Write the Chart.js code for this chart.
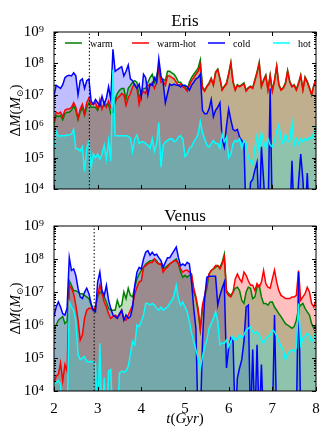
<!doctype html>
<html lang="en">
  <head>
    <meta charset="UTF-8" />
    <title>Eris / Venus mass accretion</title>
    <script src="https://cdn.jsdelivr.net/npm/chart.js@4.4.1/dist/chart.umd.min.js"></script>
    <style>
      body,
      html {
        margin: 0;
        padding: 0;
        background: #fff;
      }
      .panel {
        position: absolute;
        left: 0;
        width: 336px;
      }
      #erisBox {
        top: 0;
        height: 200px;
      }
      #venusBox {
        top: 200px;
        height: 238px;
      }
    </style>
  </head>
  <body>
    <div class="panel" id="erisBox">
      <canvas id="erisChart" width="336" height="200"></canvas>
    </div>
    <div class="panel" id="venusBox">
      <canvas id="venusChart" width="336" height="238"></canvas>
    </div>

    <script>
      // sampling grid (Gyr), one step every 0.05 Gyr from 2 to 8
      const times = [];
      for (let i = 0; i <= 120; i++) times.push(+(2 + 0.05 * i).toFixed(2));

      const seriesNames = ["warm", "warm-hot", "cold", "hot"];
      const xTicks = [2, 3, 4, 5, 6, 7, 8];
      const yDecades = [4, 5, 6, 7, 8, 9];
      const erisMarker = 2.81;
      const venusMarker = 2.92;

      // values below 1e4 sit off the bottom of the axis
      const erisWarm = [
        1.1e6, 2.2e6, 2e6, 2.2e6, 1.6e6, 2.5e6, 2.8e6, 2.8e6, 3.2e6, 4.5e6,
        3.2e6, 1.6e6, 2.8e6, 4e6, 2.2e6, 4e6, 5.6e6, 4e6, 4e6, 4e6,
        3.2e6, 5e6, 4e6, 4.5e6, 5e6, 5e6, 2.5e6, 2.8e6, 7.2e6, 1.1e7,
        1.4e7, 1.6e7, 1.6e7, 7.1e6, 1.6e7, 2e7, 2.5e7, 2.8e7, 2.5e7, 7.9e6,
        1.3e7, 1.6e7, 1.6e7, 2.5e7, 3.5e7, 4.5e7, 2.5e7, 4e7, 7.9e7, 3.2e7,
        3.2e7, 2.8e7, 5.6e7, 5.6e7, 5e7, 4.5e7, 3.5e7, 2.5e7, 2.5e7, 2e7,
        1.8e7, 1.4e7, 2.5e7, 3.5e7, 4.5e7, 5.6e7, 7.1e7, 1.3e8, 1.8e7, 1.4e7,
        1.9e7, 2.4e7, 3.4e7, 2.1e7, 5.3e7, 6.6e7, 3.4e7, 1.5e7, 1.9e7, 2.4e7,
        4.8e7, 1.1e8, 2.7e7, 1.5e7, 2.1e7, 1.9e7, 2.1e7, 2.4e7, 1.4e7, 1.7e7,
        1.9e7, 1.7e7, 3e7, 5.3e7, 1.1e8, 1.9e7, 3e7, 4.3e7, 1.5e7, 4.3e7,
        1.4e7, 3e7, 8.4e7, 2.1e7, 1.5e7, 1.7e7, 2.4e7, 6e7, 2.7e7, 1.9e7,
        2.1e7, 1.5e7, 2.4e7, 4.3e7, 1.5e7, 3.7e7, 2.7e7, 1.7e7, 1e7, 2e7, 3e7,
      ];
      const erisWarmHot = [
        1.4e6, 2.8e6, 2.5e6, 2.8e6, 2e6, 3.2e6, 3.5e6, 3.5e6, 4e6, 5.6e6,
        4e6, 1.8e6, 3.5e6, 5e6, 2.5e6, 5.6e6, 7.9e6, 5e6, 5e6, 5.6e6,
        3.5e6, 7.1e6, 3.5e6, 5.6e6, 4e6, 6.3e6, 4e6, 3.2e6, 5.8e6, 7.9e6,
        8.9e6, 1.1e7, 1e7, 4.6e6, 7.9e6, 1.1e7, 1.8e7, 2.2e7, 1.6e7, 5e6,
        1e7, 1.3e7, 1.1e7, 2e7, 2e7, 2.5e7, 1.6e7, 2.5e7, 7.1e7, 2.5e7,
        2.8e7, 2e7, 4e7, 4e7, 3.5e7, 3.2e7, 2.5e7, 2e7, 2.2e7, 1.8e7,
        1.6e7, 1.3e7, 2e7, 2.8e7, 3.5e7, 4.5e7, 5.6e7, 8.9e7, 1.6e7, 1.3e7,
        1.8e7, 2.2e7, 3.2e7, 2e7, 5e7, 6.3e7, 3.2e7, 1.4e7, 1.8e7, 2.2e7,
        4.5e7, 1e8, 2.5e7, 1.4e7, 2e7, 1.8e7, 2e7, 2.2e7, 1.3e7, 1.6e7,
        1.8e7, 1.6e7, 2.8e7, 5e7, 1e8, 1.8e7, 2.8e7, 4e7, 1.4e7, 4e7,
        1.3e7, 2.8e7, 7.9e7, 2e7, 1.4e7, 1.6e7, 2.2e7, 5.6e7, 2.5e7, 1.8e7,
        2e7, 1.4e7, 2.2e7, 4e7, 1.4e7, 3.5e7, 2.5e7, 1.6e7, 1e7, 2e7, 3.2e7,
      ];
      const erisCold = [
        9.1e6, 2e7, 1.8e7, 1.6e7, 2.1e7, 3.5e7, 4e7, 4.2e7, 4e7, 5e7,
        4e7, 1e7, 2.8e7, 3.2e7, 1.6e7, 2.8e7, 3.2e7, 6.3e6, 5e6, 7.1e6,
        5.6e6, 4.5e6, 8.9e6, 5e6, 7.9e6, 1.8e7, 7.1e6, 2.8e8, 5.6e7, 6.3e7,
        7.1e7, 7.9e7, 4e7, 5.6e7, 8.9e7, 3.2e7, 2.8e7, 2e7, 1.6e7, 2.2e7,
        8.9e6, 4.5e7, 3.5e7, 1e7, 2.2e7, 2e7, 3.5e7, 2.5e7, 1.4e8, 4e7,
        2.5e7, 5.6e6, 1.1e7, 2.2e7, 2e7, 2.2e7, 2e7, 2e7, 1.8e7, 2e7,
        2e7, 1.8e7, 1.4e7, 2e7, 2.5e7, 3.2e7, 3.5e7, 4.5e7, 3.2e6, 2.5e6,
        2.5e6, 3.5e6, 7.1e6, 2e6, 3.2e6, 4e6, 5.6e6, 4e5, 2.2e5, 1e6,
        3.5e6, 1.6e6, 7.9e5, 7.1e5, 7.9e5, 4.5e5, 3.5e5, 2.8e5, 1e3, 1e3,
        1.6e4, 2e4, 4e4, 7.1e4, 1e3, 2.2e5, 2e4, 1e3, 1e3, 1.6e7,
        1e3, 1e3, 1e3, 1e3, 1e3, 1e3, 1e3, 1e3, 1e3, 7.9e4,
        1e3, 1e3, 1.6e4, 1.3e5, 2e4, 1e3, 3.2e4, 1e3, 1e3, 1e3, 1e3,
      ];
      const erisHot = [
        2.2e5, 6.9e5, 4.8e5, 5e5, 5e5, 5e5, 5.2e5, 5.2e5, 5.6e5, 7.9e5,
        1.9e5, 1.9e5, 1.6e5, 2.2e5, 3.6e4, 2e5, 3.2e5, 5e4, 1.3e5, 1e5,
        1.3e5, 8.9e4, 1.3e5, 2.5e5, 8.9e4, 3.5e5, 7.9e4, 6.3e7, 5e5, 5e5,
        5e5, 5e5, 5e5, 5e5, 4.8e5, 4.2e5, 1.6e5, 4e5, 5.2e5, 2.8e5,
        3.2e5, 3.2e5, 2.8e5, 2.5e5, 2e5, 4e5, 1.6e5, 2.8e5, 1.3e6, 5e4,
        2.5e5, 3.2e5, 3.5e5, 4e5, 4e5, 3.2e5, 3.5e5, 4.5e5, 5e5, 4e5,
        1.1e5, 1.3e5, 2e5, 2.2e5, 3.2e5, 4e5, 5.6e5, 1.4e6, 6.3e5, 4e5,
        2.5e5, 2.2e5, 2.8e5, 3.5e5, 2.8e5, 2.8e5, 2e5, 5.6e5, 3.2e5, 4.5e5,
        1e5, 1.3e5, 2.8e5, 3.5e5, 3.2e5, 4e5, 2e5, 3.5e5, 2.8e5, 1e5,
        7.9e4, 6.3e4, 2e5, 5e5, 1.6e5, 6.3e5, 3.2e5, 2e5, 4e5, 2.5e5,
        2.2e5, 3.5e5, 7.1e5, 1.1e6, 4e5, 2.8e5, 5.6e5, 3.2e5, 3.5e5, 1.3e6,
        2.5e5, 4e5, 2.8e5, 4e5, 3.2e5, 4e5, 3.5e5, 4.5e5, 4e5, 6.3e5, 1.1e6,
      ];

      const venusWarm = [
        7.9e5, 1e6, 1.4e6, 1.6e6, 1.8e6, 1.1e6, 1.3e6, 2.2e7, 1.6e7, 1.1e7,
        1.1e7, 1e7, 8.9e6, 8.9e6, 7.9e6, 7.1e6, 6.3e6, 4e6, 2.8e6, 3.5e6,
        7.1e6, 1e7, 8.9e6, 7.1e6, 5e6, 3.2e6, 2.8e6, 2.8e6, 2.8e6, 5.6e6,
        3.5e6, 4e6, 1e7, 6.3e6, 1.3e7, 7.9e6, 7.1e6, 1.4e7, 2.5e7, 3.5e7,
        4.5e7, 5.6e7, 7.1e7, 7.9e7, 8.9e7, 8.9e7, 1e8, 8.9e7, 7.1e7, 7.1e7,
        5e7, 5.6e7, 6.3e7, 7.1e7, 7.9e7, 8.9e7, 1e8, 7.1e7, 4e7, 2.8e7,
        3.2e7, 2.8e7, 3.2e7, 3.2e7, 1e7, 6.3e6, 2.5e6, 7.1e5, 3.2e6, 7.1e6,
        1.3e7, 3.5e7, 4.5e7, 5e7, 5.6e7, 6.3e7, 5.6e7, 7.9e7, 1.4e8, 1.1e7,
        8.9e6, 7.9e6, 1e7, 1.3e7, 1.4e7, 1.1e7, 5.6e6, 4.5e6, 1e7, 1.4e7,
        1.3e7, 6.3e6, 7.1e6, 1.4e7, 1.6e7, 7.1e6, 4.5e6, 4.5e6, 4e6, 5e6,
        5e6, 3.5e6, 2.8e6, 2.2e6, 1.8e6, 1.4e6, 1.1e6, 1e6, 8.9e5, 7.9e5,
        8.9e5, 1.4e6, 3.2e6, 4e6, 4.5e6, 3.2e6, 2.5e6, 2e6, 1.1e6, 7.9e5, 1e6,
      ];
      const venusWarmHot = [
        1.8e4, 2.8e4, 3.2e4, 7.1e4, 2e4, 6.3e4, 4e4, 1.6e7, 1.3e7, 8.9e6,
        4e6, 1.4e6, 3.5e5, 5e5, 1.6e6, 2.8e6, 3.2e6, 3.2e6, 2.8e6, 3.5e6,
        7.9e6, 1.6e7, 8.9e6, 5e6, 3.5e6, 2.2e6, 1.6e6, 1.8e6, 2e6, 1.8e6,
        2e6, 2.8e6, 1.6e6, 1.4e6, 2e6, 2.8e6, 4e6, 8.9e6, 1.4e7, 2e7,
        2.2e7, 5.6e7, 6.3e7, 7.1e7, 7.9e7, 7.9e7, 1e8, 7.9e7, 7.1e7, 7.1e7,
        4e7, 5e7, 5.6e7, 7.1e7, 7.9e7, 8.9e7, 8.9e7, 7.1e7, 5e7, 4e7,
        4.5e7, 4.6e7, 4e7, 3.5e7, 1.3e7, 7.1e6, 3.2e6, 7.9e5, 4e6, 7.9e6,
        1.8e7, 3.5e7, 4.5e7, 5e7, 6.3e7, 6.3e7, 5e7, 7.1e7, 1.15e8, 1e7,
        7.9e6, 7.1e6, 1e7, 2.5e7, 3.5e7, 2.5e7, 2e7, 4e7, 3.2e7, 2.2e7,
        1.6e7, 1.6e7, 1.1e7, 1.8e7, 1.4e7, 2e7, 4.5e7, 1.8e7, 1.4e7, 1.3e7,
        2.5e7, 4.6e7, 2e7, 1.1e7, 7.9e6, 7.1e6, 6.3e6, 6.3e6, 6.3e6, 7.1e6,
        7.1e6, 7.9e6, 4.5e7, 5.6e6, 7.1e6, 8.9e6, 1.4e7, 1e7, 4.5e6, 3.5e6, 5.6e6,
      ];
      const venusCold = [
        1.8e6, 3.5e6, 5e6, 3.5e6, 2.2e6, 2e6, 3.2e6, 1.1e8, 4.5e7, 5e7,
        3.2e7, 1.3e7, 7.1e6, 6.3e6, 1e7, 1.3e7, 8.9e6, 4.5e6, 2.8e6, 2.5e6,
        2e7, 4e7, 1.1e7, 7.9e6, 1.6e7, 5.6e6, 3.2e6, 2e6, 1.8e6, 1.6e6,
        2.2e6, 2.8e6, 1.4e6, 2e6, 1.6e6, 1.8e6, 3.5e6, 1.6e7, 4e7, 5.6e7,
        5e7, 1e8, 1.6e8, 1.8e8, 1.3e8, 1.6e8, 1.3e8, 1.4e8, 1.1e8, 8.9e7,
        5.6e7, 7.9e7, 1.1e8, 1.1e8, 1.4e8, 1.8e8, 2.3e8, 1.1e8, 6.3e7, 7.1e7,
        6.3e7, 7.9e7, 7.1e7, 2e7, 3.2e6, 7.9e5, 1e3, 1e3, 3.2e5, 6.3e6,
        2.8e7, 3e7, 3e7, 3e7, 3e7, 4e6, 7.9e6, 1.3e7, 2e7, 5e4,
        2e5, 4e5, 3.2e5, 1e3, 2.5e4, 5e4, 8.9e4, 3.2e5, 3.5e6, 4e6,
        1e3, 1.8e5, 1e3, 2.5e5, 1e3, 6.3e4, 1e3, 1e3, 1e3, 1e3,
        1e3, 2e6, 1e3, 1e3, 1e3, 1e3, 1e3, 1e3, 1e3, 1e3,
        1e3, 1e3, 4e7, 1e3, 1e3, 1e3, 1e3, 1e3, 1e3, 1e3, 1e3,
      ];
      const venusHot = [
        1.6e4, 1.8e4, 2.1e4, 1.6e4, 1e3, 1e3, 1e3, 5e6, 3.5e6, 2.8e6,
        1.3e6, 1.3e5, 8.9e4, 1e5, 1.1e5, 7.9e4, 7.6e4, 7.9e4, 7.6e4, 7.1e4,
        1e3, 2.8e5, 1e3, 2.5e4, 1e3, 4e4, 4.5e4, 1e3, 1e3, 1e3,
        3.5e4, 4e4, 3.8e4, 4e4, 5.6e4, 1.3e5, 3.2e5, 2.5e5, 1e6, 8.9e5,
        1.3e6, 2e6, 4.5e6, 4.5e6, 4e6, 4.5e6, 4e6, 3.2e6, 2.8e6, 3.5e6,
        2.8e6, 3.2e6, 3.5e6, 4.5e6, 5.6e6, 7.9e6, 1.6e7, 6.3e6, 4e6, 5e6,
        3.5e6, 2.5e6, 1.3e6, 5.6e5, 3.2e5, 1.8e5, 1e5, 5e4, 1.1e5, 2.2e5,
        3.5e5, 7.9e5, 1.1e6, 1.6e6, 2.5e6, 1.3e6, 2.5e5, 2.8e5, 2.8e5, 3.5e5,
        2.2e5, 3.2e5, 4.5e5, 3.5e5, 4e5, 5e5, 4e5, 5e5, 6.9e5, 7.9e5,
        8.9e5, 6.3e5, 5.6e5, 6.3e5, 5e5, 3.5e5, 2.8e5, 4e5, 4.5e5, 5e5,
        7.1e5, 6.3e5, 4.5e5, 3.2e5, 2.2e5, 1.8e5, 8.9e4, 1.3e5, 1.6e5, 1.8e5,
        1.6e5, 2e5, 4.5e6, 2.5e5, 4e5, 4.5e5, 5.6e5, 5e5, 3.2e5, 4e5, 6.3e5,
      ];

      const lineColors = {
        warm: "#008000",
        "warm-hot": "#ff0000",
        cold: "#0000ff",
        hot: "#00ffff",
      };
      const fillColors = {
        warm: "rgba(0,128,0,0.25)",
        "warm-hot": "rgba(255,0,0,0.25)",
        cold: "rgba(0,0,255,0.25)",
        hot: "rgba(0,255,255,0.25)",
      };
      const serif = "'Liberation Serif', 'DejaVu Serif', serif";
      const sup = { 4: "⁴", 5: "⁵", 6: "⁶", 7: "⁷", 8: "⁸", 9: "⁹" };

      // every 1..9 x 10^n step, used for minor ticks on the log axis
      const yTickValues = [];
      yDecades.forEach((e, k) => {
        for (let m = 1; m <= 9; m++) {
          if (k === yDecades.length - 1 && m > 1) break;
          yTickValues.push(m * Math.pow(10, e));
        }
      });

      function isDecade(v) {
        const e = Math.log10(v);
        return Math.abs(e - Math.round(e)) < 1e-6;
      }

      // draw a label made of several font runs, centred on (cx, cy)
      function drawRuns(ctx, runs, cx, cy, rotate) {
        ctx.save();
        ctx.translate(cx, cy);
        if (rotate) ctx.rotate(-Math.PI / 2);
        ctx.fillStyle = "#000";
        ctx.textBaseline = "alphabetic";
        let total = 0;
        runs.forEach((r) => {
          ctx.font = r.font;
          total += ctx.measureText(r.text).width;
        });
        let x = -total / 2;
        runs.forEach((r) => {
          ctx.font = r.font;
          ctx.fillText(r.text, x, 5 + (r.dy || 0));
          x += ctx.measureText(r.text).width;
        });
        ctx.restore();
      }

      const up = "15px " + serif;
      const it = "italic 15px " + serif;
      const yTitleRuns = [
        { text: "Δ", font: up },
        { text: "M", font: it },
        { text: "(", font: up },
        { text: "M", font: it },
        { text: "⊙", font: "9px 'DejaVu Serif', serif", dy: 3 },
        { text: ")", font: up },
      ];
      const xTitleRuns = [
        { text: "t", font: it },
        { text: "(", font: up },
        { text: "Gyr", font: it },
        { text: ")", font: up },
      ];

      // frame, inward ticks and axis titles
      const frameTicks = {
        id: "frameTicks",
        afterDraw(chart) {
          const { ctx, chartArea: a } = chart;
          const x = chart.scales.x;
          const y = chart.scales.y;
          ctx.save();
          ctx.strokeStyle = "#000";
          ctx.lineWidth = 1;
          ctx.beginPath();
          x.ticks.forEach((t) => {
            const px = Math.round(x.getPixelForValue(t.value)) + 0.5;
            ctx.moveTo(px, a.bottom);
            ctx.lineTo(px, a.bottom - 4);
            ctx.moveTo(px, a.top);
            ctx.lineTo(px, a.top + 4);
          });
          y.ticks.forEach((t) => {
            const py = Math.round(y.getPixelForValue(t.value)) + 0.5;
            const len = isDecade(t.value) ? 4 : 2;
            ctx.moveTo(a.left, py);
            ctx.lineTo(a.left + len, py);
            ctx.moveTo(a.right, py);
            ctx.lineTo(a.right - len, py);
          });
          ctx.stroke();
          ctx.strokeRect(a.left, a.top, a.right - a.left, a.bottom - a.top);
          ctx.restore();

          drawRuns(ctx, yTitleRuns, 15, (a.top + a.bottom) / 2, true);
          if (chart.canvas.id === "venusChart") {
            drawRuns(ctx, xTitleRuns, (a.left + a.right) / 2, 218, false);
          }
        },
      };

      // key drawn inside the top of the Eris panel
      const insideLegend = {
        id: "insideLegend",
        afterDraw(chart) {
          const { ctx, chartArea: a } = chart;
          const offsets = [11, 78, 154, 219];
          const ly = a.top + 11;
          ctx.save();
          ctx.font = "10px " + serif;
          ctx.textBaseline = "middle";
          ctx.fillStyle = "#000";
          seriesNames.forEach((name, i) => {
            const x0 = a.left + offsets[i];
            ctx.strokeStyle = lineColors[name];
            ctx.lineWidth = 1.5;
            ctx.beginPath();
            ctx.moveTo(x0, ly);
            ctx.lineTo(x0 + 17, ly);
            ctx.stroke();
            ctx.fillText(name, x0 + 25, ly + 1);
          });
          ctx.restore();
        },
      };

      function points(values) {
        return values.map((v, i) => ({ x: times[i], y: v }));
      }

      // shaded area under a series, no outline
      function fillDataset(name, values) {
        return {
          label: name + " area",
          data: points(values),
          borderWidth: 0,
          borderColor: "rgba(0,0,0,0)",
          backgroundColor: fillColors[name],
          pointRadius: 0,
          fill: "start",
        };
      }

      function lineDataset(name, values) {
        return {
          label: name,
          data: points(values),
          borderColor: lineColors[name],
          borderWidth: 1.5,
          pointRadius: 0,
          fill: false,
        };
      }

      function makeChart(id, title, s, marker, opts) {
        // first entry is painted last: lines over all shading
        const datasets = [
          {
            label: "marker",
            data: [
              { x: marker, y: 1e4 },
              { x: marker, y: 1e9 },
            ],
            borderColor: "#000",
            borderWidth: 1,
            borderDash: [1.5, 2],
            pointRadius: 0,
            fill: false,
          },
          lineDataset("hot", s.hot),
          lineDataset("cold", s.cold),
          lineDataset("warm-hot", s.warmHot),
          lineDataset("warm", s.warm),
          fillDataset("hot", s.hot),
          fillDataset("warm", s.warm),
          fillDataset("warm-hot", s.warmHot),
          fillDataset("cold", s.cold),
        ];
        const plugins = [frameTicks];
        if (opts.legend) plugins.push(insideLegend);

        return new Chart(document.getElementById(id), {
          type: "line",
          data: { datasets },
          plugins,
          options: {
            responsive: false,
            animation: false,
            devicePixelRatio: 1,
            events: [],
            layout: { padding: { left: 0, right: 20, top: 0, bottom: 0 } },
            font: { family: serif },
            plugins: {
              legend: { display: false },
              tooltip: { enabled: false },
              title: {
                display: true,
                text: title,
                fullSize: false,
                color: "#000",
                font: { family: serif, size: 17, weight: "normal", lineHeight: 1 },
                padding: opts.titlePad,
              },
            },
            scales: {
              x: {
                type: "linear",
                min: 2,
                max: 8,
                grid: { display: false },
                border: { display: false },
                afterBuildTicks: (sc) => {
                  sc.ticks = xTicks.map((v) => ({ value: v }));
                },
                ticks: {
                  display: opts.xLabels,
                  padding: 1,
                  maxRotation: 0,
                  color: "#000",
                  font: { family: serif, size: 15 },
                },
                afterFit: (sc) => {
                  sc.height = opts.bottom;
                },
              },
              y: {
                type: "logarithmic",
                min: 1e4,
                max: 1e9,
                grid: { display: false },
                border: { display: false },
                afterBuildTicks: (sc) => {
                  sc.ticks = yTickValues.map((v) => ({ value: v }));
                },
                ticks: {
                  autoSkip: false,
                  padding: 2,
                  color: "#000",
                  font: { family: serif, size: 15 },
                  callback: (v) =>
                    isDecade(v) ? "10" + sup[Math.round(Math.log10(v))] : "",
                },
                afterFit: (sc) => {
                  sc.width = 54;
                },
              },
            },
          },
        });
      }

      makeChart(
        "erisChart",
        "Eris",
        { warm: erisWarm, warmHot: erisWarmHot, cold: erisCold, hot: erisHot },
        erisMarker,
        { legend: true, xLabels: false, bottom: 5, titlePad: { top: 13, bottom: 2 } },
      );
      makeChart(
        "venusChart",
        "Venus",
        { warm: venusWarm, warmHot: venusWarmHot, cold: venusCold, hot: venusHot },
        venusMarker,
        { legend: false, xLabels: true, bottom: 47, titlePad: { top: 8, bottom: 1 } },
      );
    </script>
  </body>
</html>
